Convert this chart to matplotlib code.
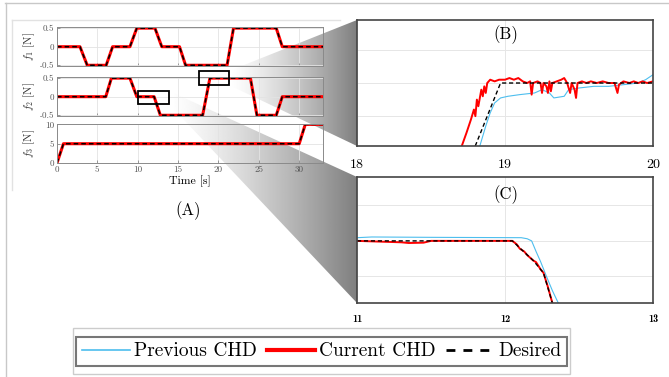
import numpy as np
import matplotlib.pyplot as plt
from matplotlib.lines import Line2D
from matplotlib.patches import Rectangle, Polygon

plt.rcParams['axes.unicode_minus'] = False
plt.rcParams['mathtext.fontset'] = 'cm'

# ---- data ----
# panel (A): desired force profiles, breakpoints
t_f1 = [0, 2.85, 3.75, 6.1, 6.9, 9.05, 9.9, 12.15, 13.0, 15.2, 15.95, 21.1, 21.9, 27.2, 27.95, 33]
f1 = [0, 0, -0.5, -0.5, 0, 0, 0.5, 0.5, 0, 0, -0.5, -0.5, 0.5, 0.5, 0, 0]
t_f2 = [0, 6.05, 6.75, 9.05, 9.9, 12.05, 12.82, 18.07, 18.97, 24.0, 24.8, 27.2, 27.95, 33]
f2 = [0, 0, 0.5, 0.5, 0, 0, -0.5, -0.5, 0.5, 0.5, -0.5, -0.5, 0, 0]
t_f3 = [0, 0.8, 30.05, 30.8, 33]
f3 = [0, 5, 5, 10, 10]

# panel (B): zoom of f2 around t = 18..20
tB_des = [18.0, 18.07, 18.97, 20.0]
des_B = [-0.5, -0.5, 0.5, 0.5]
tB_cur = [18.70, 18.74, 18.77, 18.79, 18.80, 18.81, 18.82, 18.84, 18.85, 18.86, 18.87, 18.88,
          18.90, 18.93, 18.96, 19.00, 19.03, 19.06, 19.09, 19.12, 19.15, 19.17, 19.18, 19.19,
          19.22, 19.24, 19.25, 19.26, 19.28, 19.29, 19.30, 19.31, 19.32, 19.35, 19.38, 19.40,
          19.42, 19.44, 19.45, 19.47, 19.48, 19.49, 19.52, 19.55, 19.58, 19.62, 19.66, 19.70,
          19.74, 19.76, 19.77, 19.80, 19.84, 19.87, 19.90, 19.93, 19.96, 20.00]
cur_B = [0.30, 0.35, 0.39, 0.42, 0.40, 0.45, 0.43, 0.48, 0.46, 0.49, 0.47, 0.50,
         0.51, 0.505, 0.51, 0.51, 0.515, 0.51, 0.515, 0.505, 0.50, 0.505, 0.465, 0.50,
         0.505, 0.50, 0.47, 0.50, 0.49, 0.47, 0.505, 0.475, 0.50, 0.505, 0.51, 0.515,
         0.50, 0.47, 0.50, 0.48, 0.455, 0.50, 0.505, 0.50, 0.505, 0.50, 0.505, 0.50,
         0.50, 0.47, 0.495, 0.505, 0.50, 0.505, 0.50, 0.505, 0.50, 0.505]
tB_prev = [18.83, 18.87, 18.90, 18.93, 18.97, 19.02, 19.10, 19.20, 19.25, 19.30, 19.33,
           19.40, 19.43, 19.50, 19.60, 19.70, 19.80, 19.90, 19.95, 20.00]
prev_B = [0.31, 0.37, 0.41, 0.44, 0.455, 0.46, 0.465, 0.47, 0.48, 0.47, 0.455,
          0.46, 0.48, 0.485, 0.49, 0.49, 0.495, 0.50, 0.51, 0.525]

# panel (C): zoom of f2 around t = 11..13
tC_des = [11.0, 12.05, 12.10, 12.19, 12.26, 12.32, 12.40, 12.60, 12.82, 13.0]
des_C = [0, 0, -0.02, -0.055, -0.09, -0.175, -0.30, -0.45, -0.5, -0.5]
tC_cur = [11.0, 11.3, 11.35, 11.45, 11.5, 12.05, 12.08, 12.10, 12.13, 12.15, 12.19, 12.21,
          12.24, 12.26, 12.29, 12.32, 12.35]
cur_C = [0, -0.004, -0.006, -0.005, 0, 0, -0.01, -0.022, -0.03, -0.04, -0.055, -0.06,
         -0.08, -0.09, -0.13, -0.175, -0.22]
tC_prev = [11.0, 11.1, 11.5, 12.11, 12.15, 12.18, 12.21, 12.24, 12.28, 12.32, 12.36, 12.40]
prev_C = [0.009, 0.011, 0.01, 0.009, 0.006, 0.0, -0.03, -0.058, -0.10, -0.14, -0.175, -0.22]

labels = ['Previous CHD', 'Current CHD', 'Desired']

BLUE = '#4DBEEE'
RED = '#ff0000'

fig = plt.figure(figsize=(6.69, 3.77), dpi=100)

# background layer in pixel coords: page frames and zoom wedges
bg = fig.add_axes([0, 0, 1, 1], zorder=-5)
bg.axis('off')


def wedge(ax, pts, x0, x1):
    g = np.linspace(0, 1, 256)
    img = np.tile(1 - 0.5 * g ** 1.3, (2, 1))
    im = ax.imshow(img, cmap='gray', vmin=0, vmax=1, extent=[x0, x1, 377, 0],
                   aspect='auto', interpolation='bilinear')
    poly = Polygon(pts, closed=True, fc='none', ec='none')
    ax.add_patch(poly)
    im.set_clip_path(poly)


wedge(bg, [(229, 71), (357, 20), (357, 146), (229, 85)], 229, 357)
wedge(bg, [(169, 91), (357, 177), (357, 303), (169, 104)], 169, 357)
bg.plot([5, 669], [3, 3], color='#c8c8c8', lw=1)
bg.plot([5.5, 5.5], [3, 377], color='#c8c8c8', lw=1)
bg.plot([12, 340], [20, 20], color='#e2e2e2', lw=1)
bg.plot([12, 12], [20, 190], color='#e2e2e2', lw=1)
bg.add_patch(Rectangle((73, 328), 497, 46, fill=False, ec='#cccccc', lw=1))
bg.set_xlim(0, 669)
bg.set_ylim(377, 0)

# ---- panel (A) ----
bottoms = [0.8249, 0.6923, 0.5676]
series = [(t_f1, f1, r'$f_1$ [N]'), (t_f2, f2, r'$f_2$ [N]'), (t_f3, f3, r'$f_3$ [N]')]
axA = []
for i, (b, (t, f, lab)) in enumerate(zip(bottoms, series)):
    ax = fig.add_axes([0.0852, b, 0.3976, 0.1034])
    ax.set_facecolor('none')
    ax.plot(t, f, color=BLUE, lw=1)
    ax.plot(t, f, color=RED, lw=2.2)
    ax.plot(t, f, color='k', lw=1.1, ls='--', dashes=(3, 2))
    ax.set_xlim(0, 33)
    ax.set_xticks([0, 5, 10, 15, 20, 25, 30])
    if i < 2:
        ax.set_ylim(-0.52, 0.53)
        ax.set_yticks([-0.5, 0, 0.5])
        ax.set_yticklabels(['-0.5', '0', '0.5'])
        ax.set_xticklabels([])
    else:
        ax.set_ylim(0, 10.1)
        ax.set_yticks([0, 5, 10])
    ax.grid(True, color='#e3e3e3', lw=0.6)
    for s in ax.spines.values():
        s.set_color('#8a8a8a')
        s.set_linewidth(0.7)
    ax.tick_params(direction='in', length=2, width=0.6, color='#8a8a8a',
                   labelsize=6.5, labelcolor='#555555', pad=2)
    for tl in ax.get_xticklabels() + ax.get_yticklabels():
        tl.set_family('cmr10')
    ax.set_ylabel(lab, fontsize=8, family='cmr10', color='#333333')
    ax.yaxis.set_label_coords(-0.075, 0.5)
    axA.append(ax)

axA[2].set_xlabel('Time [s]', fontsize=8.5, family='cmr10', labelpad=1)
fig.text(188 / 669, 1 - 211 / 377, '(A)', ha='center', va='center', fontsize=12, family='cmr10')

# zoom boxes on f2
fg = fig.add_axes([0, 0, 1, 1], zorder=10)
fg.set_facecolor('none')
fg.axis('off')
fg.add_patch(Rectangle((138, 91), 31, 13, fill=False, ec='k', lw=1.3))
fg.add_patch(Rectangle((199, 71), 30, 14, fill=False, ec='k', lw=1.3))
fg.set_xlim(0, 669)
fg.set_ylim(377, 0)


def zoom_panel(rect, tp, yp, tc, yc, td, yd, xlim, ylim, yt, title, ty, tfont, tsize, pad):
    ax = fig.add_axes(rect)
    ax.plot(tp, yp, color=BLUE, lw=0.8)
    ax.plot(tc, yc, color=RED, lw=1.4)
    ax.plot(td, yd, color='k', lw=1.0, ls='--', dashes=(3, 2))
    ax.set_xlim(*xlim)
    ax.set_ylim(*ylim)
    ax.set_xticks([xlim[0], (xlim[0] + xlim[1]) / 2, xlim[1]])
    ax.set_xticklabels([str(int(v)) for v in ax.get_xticks()])
    ax.set_yticks(yt)
    ax.set_yticklabels([])
    ax.grid(True, color='#e6e6e6', lw=0.7)
    ax.tick_params(length=0, pad=pad, labelsize=tsize)
    for tl in ax.get_xticklabels():
        tl.set_family(tfont)
    for s in ax.spines.values():
        s.set_color('#444444')
        s.set_linewidth(1.2)
    ax.text(0.503, ty, title, transform=ax.transAxes, ha='center', va='center',
            fontsize=12, family='cmr10')
    return ax


zoom_panel([0.5336, 0.6127, 0.4425, 0.3342], tB_prev, prev_B, tB_cur, cur_B, tB_des, des_B,
           (18, 20), (0.31, 0.69), [0.4, 0.5, 0.6], '(B)', 0.881, 'cmr10', 10, 9)
zoom_panel([0.5336, 0.1963, 0.4425, 0.3342], tC_prev, prev_C, tC_cur, cur_C, tC_des, des_C,
           (11, 13), (-0.175, 0.18), [-0.1, 0, 0.1], '(C)', 0.857, 'cmb10', 7.5, 8)

handles = [Line2D([], [], color=BLUE, lw=1.2),
           Line2D([], [], color=RED, lw=3),
           Line2D([], [], color='k', lw=2, ls='--', dashes=(3.2, 2.9))]
leg = fig.legend(handles, labels, loc='center', bbox_to_anchor=(0.4806, 0.0676), ncol=3,
                 prop={'family': 'cmr10', 'size': 14}, handlelength=2.5, handletextpad=0.2,
                 columnspacing=0.5, frameon=True, fancybox=False, edgecolor='#555555',
                 borderpad=0.28, borderaxespad=0)
leg.get_frame().set_linewidth(1.5)

fig.savefig('out.png', dpi=100)
